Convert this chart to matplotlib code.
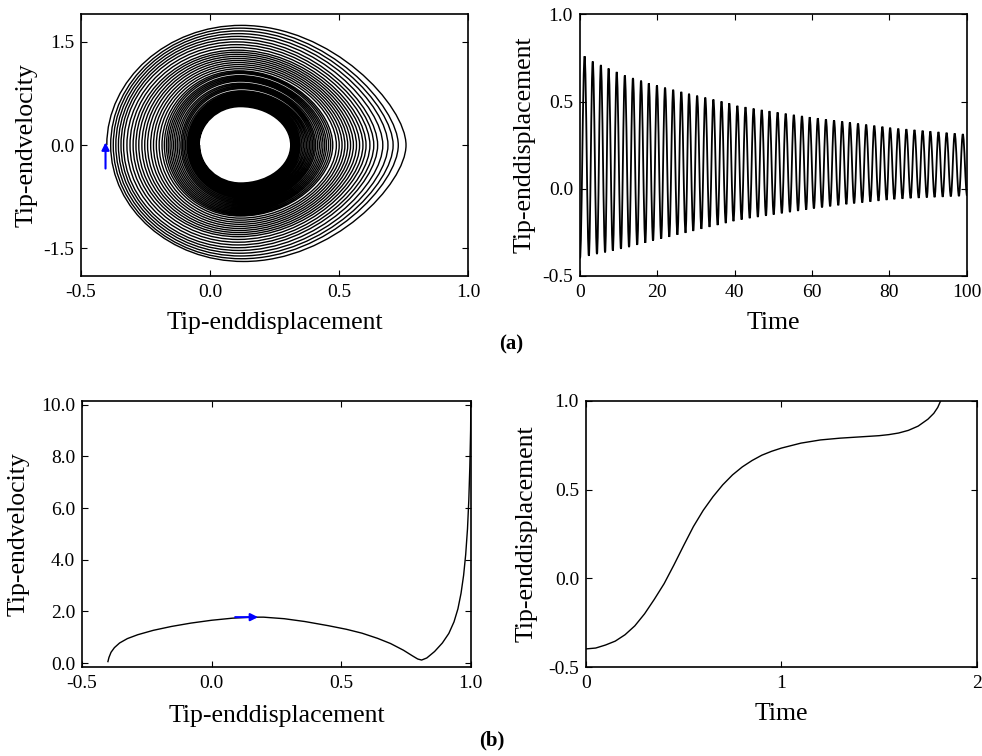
import matplotlib
matplotlib.use("Agg")
from matplotlib import pyplot as plt
from matplotlib.path import Path
from matplotlib.patches import PathPatch

plt.rcParams["font.family"] = ["Liberation Serif", "DejaVu Serif"]

# (a) damped oscillation: turning points
start_time = 0.0
start_disp = -0.40
peak_times = [1.2, 3.3, 5.4, 7.4, 9.5, 11.6, 13.7, 15.8, 17.8, 19.9,
              22.0, 24.1, 26.2, 28.2, 30.3, 32.4, 34.5, 36.6, 38.6, 40.7,
              42.8, 44.9, 47.0, 49.0, 51.1, 53.2, 55.3, 57.4, 59.4, 61.5,
              63.6, 65.7, 67.8, 69.8, 71.9, 74.0, 76.1, 78.2, 80.2, 82.3,
              84.4, 86.5, 88.6, 90.6, 92.7, 94.8, 96.9, 99.0]
peak_disp = [0.760, 0.730, 0.710, 0.690, 0.670, 0.650, 0.635, 0.620, 0.605, 0.593,
             0.580, 0.568, 0.556, 0.545, 0.534, 0.523, 0.512, 0.501, 0.490, 0.476,
             0.468, 0.460, 0.452, 0.445, 0.438, 0.431, 0.424, 0.417, 0.410, 0.404,
             0.398, 0.392, 0.386, 0.380, 0.374, 0.368, 0.362, 0.356, 0.350, 0.345,
             0.341, 0.337, 0.333, 0.329, 0.325, 0.321, 0.317, 0.313]
trough_times = [2.3, 4.4, 6.5, 8.5, 10.6, 12.7, 14.8, 16.9, 18.9, 21.0,
                23.1, 25.2, 27.3, 29.3, 31.4, 33.5, 35.6, 37.7, 39.7, 41.8,
                43.9, 46.0, 48.1, 50.1, 52.2, 54.3, 56.4, 58.5, 60.5, 62.6,
                64.7, 66.8, 68.9, 70.9, 73.0, 75.1, 77.2, 79.3, 81.3, 83.4,
                85.5, 87.6, 89.7, 91.7, 93.8, 95.9, 98.0, 100.1]
trough_disp = [-0.385, -0.375, -0.365, -0.355, -0.345, -0.335, -0.322, -0.310, -0.298, -0.287,
               -0.276, -0.264, -0.253, -0.242, -0.230, -0.219, -0.208, -0.197, -0.186, -0.177,
               -0.169, -0.162, -0.155, -0.148, -0.141, -0.134, -0.127, -0.120, -0.113, -0.107,
               -0.101, -0.095, -0.089, -0.084, -0.079, -0.074, -0.069, -0.064, -0.060, -0.057,
               -0.054, -0.052, -0.050, -0.048, -0.046, -0.044, -0.042, -0.040]
vel_up = [1.74, 1.70, 1.66, 1.62, 1.58, 1.54, 1.50, 1.46, 1.42, 1.38,
          1.35, 1.32, 1.29, 1.26, 1.23, 1.20, 1.17, 1.14, 1.11, 1.08,
          1.06, 1.04, 1.01, 0.99, 0.97, 0.95, 0.93, 0.90, 0.88, 0.86,
          0.84, 0.82, 0.79, 0.77, 0.76, 0.74, 0.73, 0.71, 0.70, 0.68,
          0.67, 0.65, 0.64, 0.62, 0.61, 0.59, 0.58, 0.56]
vel_down = [-1.69, -1.65, -1.61, -1.57, -1.53, -1.49, -1.45, -1.41, -1.37, -1.33,
            -1.30, -1.27, -1.24, -1.21, -1.18, -1.15, -1.12, -1.09, -1.06, -1.03,
            -1.01, -0.99, -0.97, -0.95, -0.93, -0.91, -0.89, -0.87, -0.85, -0.83,
            -0.81, -0.79, -0.77, -0.75, -0.74, -0.72, -0.71, -0.69, -0.68, -0.67,
            -0.65, -0.64, -0.62, -0.61, -0.60, -0.58, -0.57, -0.55]

# (b) escape run
phase_b_disp = [-0.400, -0.396, -0.388, -0.375, -0.355, -0.325, -0.285, -0.225, -0.155, -0.080,
                0.000, 0.080, 0.150, 0.200, 0.280, 0.360, 0.450, 0.520, 0.580, 0.640,
                0.690, 0.740, 0.775, 0.795, 0.810, 0.830, 0.860, 0.890, 0.915, 0.935,
                0.950, 0.962, 0.972, 0.980, 0.987, 0.992, 0.996, 0.999, 1.000]
phase_b_vel = [0.06, 0.22, 0.42, 0.60, 0.78, 0.95, 1.10, 1.27, 1.42, 1.55,
               1.66, 1.74, 1.78, 1.78, 1.72, 1.61, 1.45, 1.31, 1.16, 0.96,
               0.76, 0.50, 0.28, 0.16, 0.12, 0.20, 0.45, 0.78, 1.15, 1.60,
               2.10, 2.70, 3.40, 4.20, 5.20, 6.30, 7.60, 9.00, 10.15]
time_b = [0.0, 0.05, 0.10, 0.15, 0.20, 0.25, 0.30, 0.35, 0.40, 0.45,
          0.50, 0.55, 0.60, 0.65, 0.70, 0.75, 0.80, 0.85, 0.90, 0.95,
          1.00, 1.10, 1.20, 1.30, 1.40, 1.50, 1.55, 1.60, 1.65, 1.70,
          1.75, 1.78, 1.80, 1.815]
disp_b = [-0.398, -0.393, -0.376, -0.354, -0.318, -0.268, -0.200, -0.118, -0.030, 0.075,
          0.185, 0.292, 0.383, 0.460, 0.527, 0.583, 0.628, 0.664, 0.694, 0.716,
          0.734, 0.762, 0.780, 0.790, 0.797, 0.804, 0.810, 0.819, 0.834, 0.858,
          0.897, 0.930, 0.963, 1.000]

xlabel_disp = "Tip-enddisplacement"
ylabel_vel = "Tip-endvelocity"


def time_history_path(times, values):
    # smooth half-cycles between turning points (horizontal tangents at the extremes)
    verts = [(times[0], values[0])]
    codes = [Path.MOVETO]
    for i in range(1, len(times)):
        t0, y0, t1, y1 = times[i - 1], values[i - 1], times[i], values[i]
        h = 0.363 * (t1 - t0)
        verts += [(t0 + h, y0), (t1 - h, y1), (t1, y1)]
        codes += [Path.CURVE4] * 3
    return Path(verts, codes)


def phase_path(x_turns, v_ext):
    # x_turns alternate left/right turning points, v_ext is the velocity extreme in between
    verts = [(x_turns[0], 0.0)]
    codes = [Path.MOVETO]
    for i in range(len(v_ext)):
        xa, xb, v = x_turns[i], x_turns[i + 1], v_ext[i]
        xm = min(xa, xb) + 0.45 * abs(xb - xa)
        # big loops get a pointed right-hand side, small ones stay elliptic
        k_right = 0.55 - 0.22 * min(1.0, max(0.0, (abs(v) - 0.6) / 1.1))
        ka = 0.55 if xa < xb else k_right
        kb = k_right if xa < xb else 0.55
        verts += [(xa, ka * v), (xm - 0.55 * (xm - xa), v), (xm, v)]
        verts += [(xm + 0.55 * (xb - xm), v), (xb, kb * v), (xb, 0.0)]
        codes += [Path.CURVE4] * 6
    return Path(verts, codes)


turn_times = [start_time]
turn_disp = [start_disp]
vel_seq = []
for k in range(len(peak_times)):
    turn_times += [peak_times[k], trough_times[k]]
    turn_disp += [peak_disp[k], trough_disp[k]]
    vel_seq += [vel_up[k], vel_down[k]]

fig = plt.figure(figsize=(9.82, 7.56), dpi=100)
ax1 = fig.add_axes([0.0825, 0.635, 0.394, 0.346])
ax2 = fig.add_axes([0.5906, 0.635, 0.3938, 0.346])
ax3 = fig.add_axes([0.0835, 0.1177, 0.396, 0.352])
ax4 = fig.add_axes([0.5967, 0.1177, 0.398, 0.352])

for ax in (ax1, ax2, ax3, ax4):
    ax.tick_params(direction="in", top=True, right=True, length=4, width=0.8,
                   labelsize=14)
    ax.tick_params(axis="x", pad=6)
    ax.tick_params(axis="y", pad=5)
    for sp in ax.spines.values():
        sp.set_linewidth(1.2)

# Panel a-1: phase portrait
ax1.add_patch(PathPatch(phase_path(turn_disp, vel_seq), facecolor="none",
                        edgecolor="black", linewidth=1.0))
ax1.annotate("", xy=(-0.405, 0.08), xytext=(-0.405, -0.38),
             arrowprops=dict(arrowstyle="-|>", color="blue", lw=1.5, mutation_scale=11))
ax1.set_xlim(-0.5, 1.0)
ax1.set_ylim(-1.9, 1.9)
ax1.set_xticks([-0.5, 0.0, 0.5, 1.0])
ax1.set_yticks([-1.5, 0.0, 1.5])
ax1.set_xticklabels(["-0.5", "0.0", "0.5", "1.0"])
ax1.set_yticklabels(["-1.5", "0.0", "1.5"])
ax1.set_xlabel(xlabel_disp, fontsize=18.5, labelpad=8)
ax1.set_ylabel(ylabel_vel, fontsize=18.5, labelpad=4)

# Panel a-2: time history
ax2.add_patch(PathPatch(time_history_path(turn_times, turn_disp), facecolor="none",
                        edgecolor="black", linewidth=1.3))
ax2.set_xlim(0, 100)
ax2.set_ylim(-0.5, 1.0)
ax2.set_xticks([0, 20, 40, 60, 80, 100])
ax2.set_yticks([-0.5, 0.0, 0.5, 1.0])
ax2.set_yticklabels(["-0.5", "0.0", "0.5", "1.0"])
ax2.set_xlabel("Time", fontsize=18.5, labelpad=8)
ax2.set_ylabel(xlabel_disp, fontsize=18.5, labelpad=5)

# Panel b-1: phase curve
ax3.plot(phase_b_disp, phase_b_vel, color="black", linewidth=1.0)
ax3.annotate("", xy=(0.19, 1.78), xytext=(0.08, 1.78),
             arrowprops=dict(arrowstyle="-|>", color="blue", lw=1.5, mutation_scale=11))
ax3.set_xlim(-0.5, 1.0)
ax3.set_ylim(-0.15, 10.15)
ax3.set_xticks([-0.5, 0.0, 0.5, 1.0])
ax3.set_yticks([0, 2, 4, 6, 8, 10])
ax3.set_xticklabels(["-0.5", "0.0", "0.5", "1.0"])
ax3.set_yticklabels(["0.0", "2.0", "4.0", "6.0", "8.0", "10.0"])
ax3.set_xlabel(xlabel_disp, fontsize=18.5, labelpad=9)
ax3.set_ylabel(ylabel_vel, fontsize=18.5, labelpad=8)

# Panel b-2: time history
ax4.plot(time_b, disp_b, color="black", linewidth=1.0)
ax4.set_xlim(0, 2)
ax4.set_ylim(-0.5, 1.0)
ax4.set_xticks([0, 1, 2])
ax4.set_yticks([-0.5, 0.0, 0.5, 1.0])
ax4.set_yticklabels(["-0.5", "0.0", "0.5", "1.0"])
ax4.set_xlabel("Time", fontsize=18.5, labelpad=8)
ax4.set_ylabel(xlabel_disp, fontsize=18.5, labelpad=8)

fig.text(0.521, 0.544, "(a)", fontsize=15, fontweight="bold", ha="center", va="center")
fig.text(0.501, 0.021, "(b)", fontsize=15, fontweight="bold", ha="center", va="center")

fig.savefig("out.png", dpi=100)
